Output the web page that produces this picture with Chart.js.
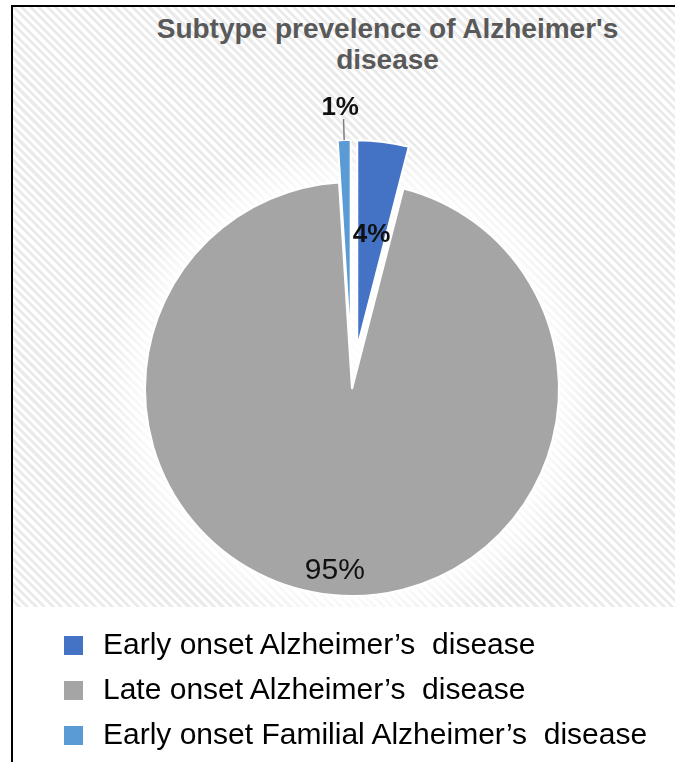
<!DOCTYPE html>
<html>
<head>
<meta charset="utf-8">
<script src="https://cdn.jsdelivr.net/npm/chart.js@4.4.1/dist/chart.umd.min.js"></script>
<style>
  body {
    margin: 0;
    background: #fff;
    font-family: "Liberation Sans", Arial, sans-serif;
  }
  #moldura {
    position: absolute;
    left: 11px;
    top: 5px;
    width: 700px;
    height: 800px;
    border-left: 2px solid #000;
    border-top: 2px solid #000;
  }
  #fundo {
    position: absolute;
    left: 13px;
    top: 7px;
    width: 662px;
    height: 600px;
    background:
      radial-gradient(circle at 339px 382px, rgba(255,255,255,0.85) 205px, rgba(255,255,255,0) 250px),
      repeating-linear-gradient(45deg, #ffffff 0px, #ffffff 3px, #ebebeb 3px, #ebebeb 6px);
  }
  #titulo {
    position: absolute;
    left: 100px;
    top: 13px;
    width: 575px;
    text-align: center;
    font-weight: bold;
    font-size: 28px;
    line-height: 31px;
    color: #595959;
  }
  #area {
    position: absolute;
    left: 0;
    top: 0;
    width: 675px;
    height: 762px;
  }
  #legenda {
    position: absolute;
    left: 0;
    top: 622px;
  }
  .item {
    position: absolute;
    left: 0;
    height: 44px;
    width: 675px;
    font-size: 30px;
    line-height: 44px;
    color: #000;
    white-space: pre;
  }
  .item span.marca {
    position: absolute;
    left: 64px;
    top: 14px;
    width: 19px;
    height: 19px;
  }
  .item span.texto {
    position: absolute;
    left: 103px;
    top: 0;
  }
</style>
</head>
<body>
<div id="moldura"></div>
<div id="fundo"></div>
<div id="titulo">Subtype prevelence of Alzheimer's<br>disease</div>
<div id="area"><canvas id="graficoPizza"></canvas></div>
<div id="legenda"></div>

<script>
const categorias = [
  "Early onset Alzheimer’s  disease",
  "Late onset Alzheimer’s  disease",
  "Early onset Familial Alzheimer’s  disease",
];
const percentuais = [4, 95, 1];

const cores = ["#4472C4", "#A5A5A5", "#5B9BD5"];

// quanto cada fatia sai do centro, em px (as duas azuis ficam destacadas)
const destaque = [42, 0, 42];

// onde cada rótulo fica: dentro, na borda interna ou fora com linha
const posicaoRotulo = ["meio", "borda", "fora"];

// desenha as fatias deslocadas sem mudar o raio (o offset do Chart.js aumenta o raio)
const fatiasDestacadas = {
  id: "fatiasDestacadas",
  beforeDatasetDraw(chart, args) {
    const ctx = chart.ctx;
    const arcos = args.meta.data;

    for (let i = 0; i < arcos.length; i++) {
      const arco = arcos[i];
      const meio = (arco.startAngle + arco.endAngle) / 2;
      ctx.save();
      ctx.translate(Math.cos(meio) * destaque[i], Math.sin(meio) * destaque[i]);
      arco.draw(ctx);
      ctx.restore();
    }
    return false;
  },
};

// rótulos de porcentagem desenhados em cima das fatias
const rotulosPizza = {
  id: "rotulosPizza",
  afterDatasetsDraw(chart) {
    const ctx = chart.ctx;
    const arcos = chart.getDatasetMeta(0).data;

    for (let i = 0; i < arcos.length; i++) {
      const arco = arcos[i];
      const meio = (arco.startAngle + arco.endAngle) / 2;
      const cx = arco.x + Math.cos(meio) * destaque[i];
      const cy = arco.y + Math.sin(meio) * destaque[i];
      const r = arco.outerRadius;

      const texto = percentuais[i] + "%";
      let dist;

      ctx.save();
      ctx.textAlign = "center";
      ctx.textBaseline = "middle";
      ctx.fillStyle = "#111";

      if (posicaoRotulo[i] == "meio") {
        dist = r * 0.55;
        ctx.font = "bold 26px 'Liberation Sans', Arial, sans-serif";
      } else if (posicaoRotulo[i] == "borda") {
        dist = r * 0.88;
        ctx.font = "30px 'Liberation Sans', Arial, sans-serif";
      } else {
        dist = r + 32;
        ctx.font = "bold 26px 'Liberation Sans', Arial, sans-serif";
        // linha guia até a fatia
        ctx.strokeStyle = "#7f7f7f";
        ctx.lineWidth = 1.5;
        ctx.beginPath();
        ctx.moveTo(cx + Math.cos(meio) * r, cy + Math.sin(meio) * r);
        ctx.lineTo(cx + Math.cos(meio) * (r + 21), cy + Math.sin(meio) * (r + 21));
        ctx.stroke();
      }

      let tx = cx + Math.cos(meio) * dist;
      let ty = cy + Math.sin(meio) * dist;
      if (posicaoRotulo[i] == "fora") tx -= 3;

      ctx.fillText(texto, tx, ty);
      ctx.restore();
    }
  },
};

const graficoPizza = new Chart(document.getElementById("graficoPizza"), {
  type: "pie",
  data: {
    labels: categorias,
    datasets: [
      {
        data: percentuais,
        backgroundColor: cores,
        borderColor: "#ffffff",
        borderWidth: 2,
        hoverBorderWidth: 2,
        hoverOffset: 0,
      },
    ],
  },
  options: {
    responsive: true,
    maintainAspectRatio: false,
    animation: false,
    events: [],
    layout: {
      padding: { left: 144, top: 181, right: 115, bottom: 165 },
    },
    plugins: {
      legend: { display: false },
      tooltip: { enabled: false },
    },
  },
  plugins: [fatiasDestacadas, rotulosPizza],
});

// legenda montada com as mesmas categorias e cores
const legenda = document.getElementById("legenda");
const passos = [0, 45, 90];
for (let i = 0; i < categorias.length; i++) {
  legenda.innerHTML += `
    <div class="item" style="top:${passos[i]}px">
      <span class="marca" style="background:${cores[i]}"></span><span class="texto">${categorias[i]}</span>
    </div>`;
}
</script>
</body>
</html>
